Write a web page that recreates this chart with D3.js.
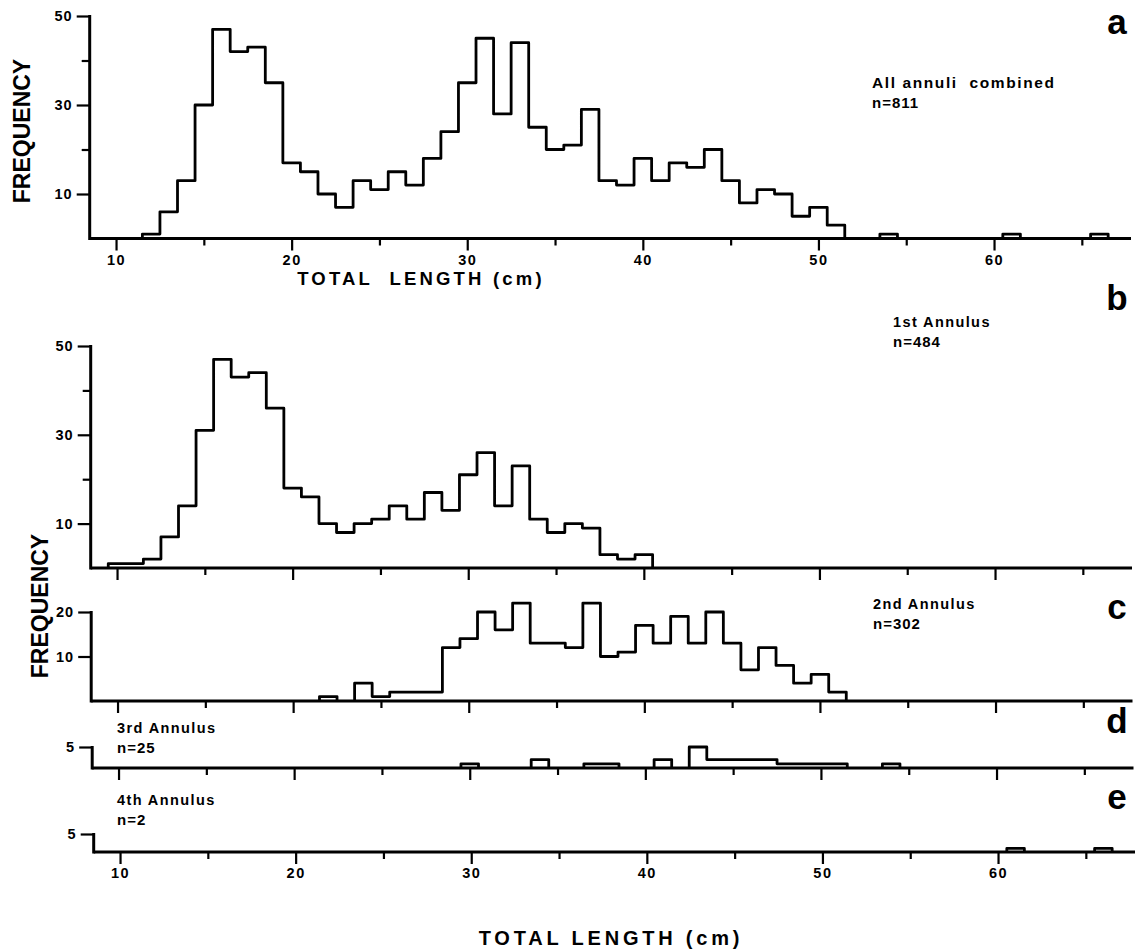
<!DOCTYPE html>
<html><head><meta charset="utf-8">
<script src="https://cdn.jsdelivr.net/npm/d3@7"></script>
<style>
body{margin:0;background:#fff}
svg{display:block}
text{font-family:"Liberation Sans",Arial,sans-serif;font-weight:bold;fill:#000}
</style>
</head><body>
<svg id="chart" width="1137" height="951"></svg>
<script>
// Length classes (cm, bin centres, 1-cm bins)
const lengthBins = [10,11,12,13,14,15,16,17,18,19,20,21,22,23,24,25,26,27,28,29,30,31,32,33,34,35,36,37,38,39,40,41,42,43,44,45,46,47,48,49,50,51,52,53,54,55,56,57,58,59,60,61,62,63,64,65,66];
// a: all annuli combined (n=811)
const allAnnuli = [0,0,1,6,13,30,47,42,43,35,17,15,10,7,13,11,15,12,18,24,35,45,28,44,25,20,21,29,13,12,18,13,17,16,20,13,8,11,10,5,7,3,0,0,1,0,0,0,0,0,0,1,0,0,0,0,1];
// b: 1st annulus (n=484)
const annulus1 = [1,1,2,7,14,31,47,43,44,36,18,16,10,8,10,11,14,11,17,13,21,26,14,23,11,8,10,9,3,2,3,0,0,0,0,0,0,0,0,0,0,0,0,0,0,0,0,0,0,0,0,0,0,0,0,0,0];
// c: 2nd annulus (n=302)
const annulus2 = [0,0,0,0,0,0,0,0,0,0,0,0,1,0,4,1,2,2,2,12,14,20,16,22,13,13,12,22,10,11,17,13,19,13,20,13,7,12,8,4,6,2,0,0,0,0,0,0,0,0,0,0,0,0,0,0,0];
// d: 3rd annulus (n=25)
const annulus3 = [0,0,0,0,0,0,0,0,0,0,0,0,0,0,0,0,0,0,0,0,1,0,0,0,2,0,0,1,1,0,0,2,0,5,2,2,2,2,1,1,1,1,0,0,1,0,0,0,0,0,0,0,0,0,0,0,0];
// e: 4th annulus (n=2)
const annulus4 = [0,0,0,0,0,0,0,0,0,0,0,0,0,0,0,0,0,0,0,0,0,0,0,0,0,0,0,0,0,0,0,0,0,0,0,0,0,0,0,0,0,0,0,0,0,0,0,0,0,0,0,1,0,0,0,0,1];

const xMajorTicks = [10,20,30,40,50,60];
const xMinorTicks = [15,25,35,45,55,65];

const panels = [
  {id:"a", values:allAnnuli, yDomain:[0,50], yRange:[238.5,16], yMajor:[10,30,50], yMinor:[20,40], xShift:0, xLabels:true,
   letter:[1117,34], title:"All annuli  combined", n:"n=811", txt:[872,88], size:15.5, sp:1.6},
  {id:"b", values:annulus1, yDomain:[0,50], yRange:[568,346], yMajor:[10,30,50], yMinor:[20,40], xShift:1, xLabels:false,
   letter:[1117,310], title:"1st Annulus", n:"n=484", txt:[893,327], size:14.5, sp:1.4},
  {id:"c", values:annulus2, yDomain:[0,20], yRange:[701,612], yMajor:[10,20], yMinor:[], xShift:1.5, xLabels:false,
   letter:[1117,619], title:"2nd Annulus", n:"n=302", txt:[873,609], size:14.5, sp:1.4},
  {id:"d", values:annulus3, yDomain:[0,5], yRange:[768,747], yMajor:[5], yMinor:[], xShift:2.5, xLabels:false,
   letter:[1117,733], title:"3rd Annulus", n:"n=25", txt:[117,733], size:14.5, sp:1.4},
  {id:"e", values:annulus4, yDomain:[0,5], yRange:[852,834], yMajor:[5], yMinor:[], xShift:4, xLabels:true,
   letter:[1117,809], title:"4th Annulus", n:"n=2", txt:[117,805], size:14.5, sp:1.4}
];

const svg = d3.select("#chart");
const line = d3.line();

panels.forEach(p => {
  const x = d3.scaleLinear().domain([8.5, 67.8]).range([89.7 + p.xShift, 1131 + p.xShift]);
  const y = d3.scaleLinear().domain(p.yDomain).range(p.yRange);
  const g = svg.append("g");

  // step outline of histogram, one path per contiguous run of non-zero bins
  const runs = [];
  let cur = null;
  lengthBins.forEach((c, i) => {
    const v = p.values[i];
    if (v > 0) {
      if (!cur) { cur = []; runs.push(cur); }
      cur.push([c, v]);
    } else cur = null;
  });
  runs.forEach(run => {
    const pts = [[run[0][0] - 0.5, 0]];
    run.forEach(([c, v]) => { pts.push([c - 0.5, v]); pts.push([c + 0.5, v]); });
    pts.push([run[run.length - 1][0] + 0.5, 0]);
    g.append("path")
      .attr("d", line(pts.map(d => [x(d[0]), y(d[1])])))
      .attr("fill", "none").attr("stroke", "#000").attr("stroke-width", 2.8)
      .attr("stroke-linejoin", "round");
  });

  // x axis: minor (short) and major (long) ticks
  const xMinor = d3.axisBottom(x).tickValues(xMinorTicks).tickSize(7).tickSizeOuter(0).tickFormat("");
  const xMajor = d3.axisBottom(x).tickValues(xMajorTicks).tickSize(12).tickSizeOuter(0).tickPadding(4)
      .tickFormat(p.xLabels ? d3.format("d") : "");
  [xMinor, xMajor].forEach(ax => {
    const a = g.append("g").attr("transform", `translate(0,${y(0)})`).call(ax);
    a.select(".domain").remove();
    a.selectAll(".tick line").attr("stroke", "#000").attr("stroke-width", 2.2);
    a.selectAll(".tick text").style("font-size", "14.5px").style("font-family", '"Liberation Sans",Arial,sans-serif')
      .style("font-weight", "bold").attr("letter-spacing", "1.5");
  });
  // baseline
  g.append("line").attr("x1", x(8.5)).attr("x2", x(67.8)).attr("y1", y(0)).attr("y2", y(0))
    .attr("stroke", "#000").attr("stroke-width", 3);

  // y axis
  const yMin = d3.axisLeft(y).tickValues(p.yMinor).tickSize(8).tickSizeOuter(0).tickFormat("");
  const yMaj = d3.axisLeft(y).tickValues(p.yMajor).tickSize(13).tickSizeOuter(0).tickPadding(4).tickFormat(d3.format("d"));
  [yMin, yMaj].forEach(ax => {
    const a = g.append("g").attr("transform", `translate(${x(8.5)},0)`).call(ax);
    a.select(".domain").remove();
    a.selectAll(".tick line").attr("stroke", "#000").attr("stroke-width", 2.2);
    a.selectAll(".tick text").style("font-size", "14.5px").style("font-family", '"Liberation Sans",Arial,sans-serif')
      .style("font-weight", "bold").attr("letter-spacing", "1");
  });
  g.append("line").attr("x1", x(8.5)).attr("x2", x(8.5)).attr("y1", y(0) + 1.5).attr("y2", y(p.yDomain[1]) - 1)
    .attr("stroke", "#000").attr("stroke-width", 3);

  // annotations
  g.append("text").attr("x", p.letter[0]).attr("y", p.letter[1]).attr("text-anchor", "middle")
    .style("font-size", "35px").text(p.id);
  g.append("text").attr("x", p.txt[0]).attr("y", p.txt[1]).style("font-size", p.size + "px")
    .attr("letter-spacing", p.sp).style("white-space", "pre").text(p.title);
  g.append("text").attr("x", p.txt[0]).attr("y", p.txt[1] + 20).style("font-size", "15px")
    .attr("letter-spacing", "1").text(p.n);
});

// axis titles
svg.append("text").attr("x", 421).attr("y", 285).attr("text-anchor", "middle")
  .style("font-size", "18.5px").attr("letter-spacing", "3.2").style("white-space", "pre").text("TOTAL  LENGTH (cm)");
svg.append("text").attr("x", 611).attr("y", 945).attr("text-anchor", "middle")
  .style("font-size", "20px").attr("letter-spacing", "3.8").text("TOTAL LENGTH (cm)");
svg.append("text").attr("transform", "translate(30,131) rotate(-90)").attr("text-anchor", "middle")
  .style("font-size", "23px").text("FREQUENCY");
svg.append("text").attr("transform", "translate(48,606) rotate(-90)").attr("text-anchor", "middle")
  .style("font-size", "23px").text("FREQUENCY");
</script>
</body></html>
